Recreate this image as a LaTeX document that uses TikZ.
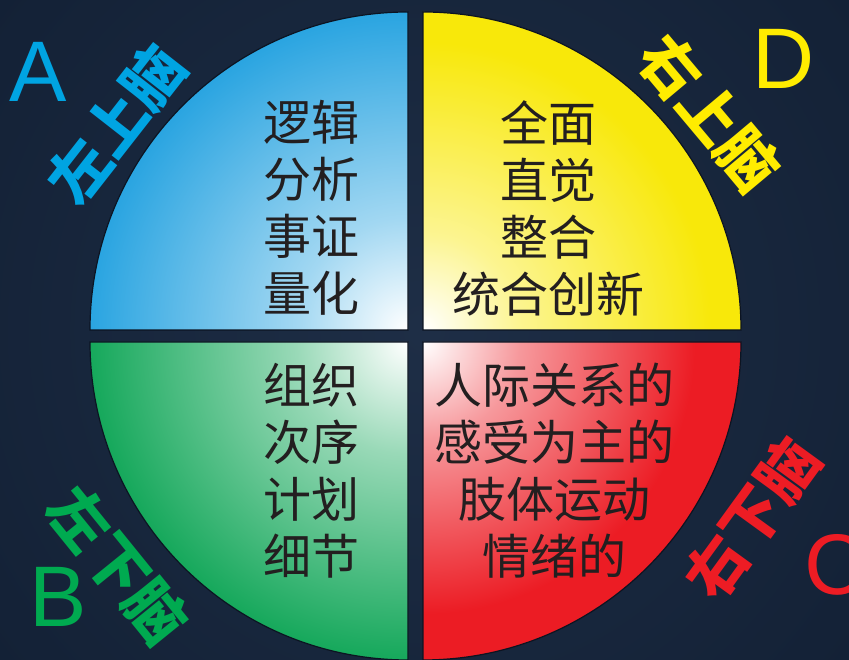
\documentclass[tikz,border=0pt]{standalone}
\usepackage{fontspec}
\setmainfont{Liberation Sans}
\newfontfamily\cjk{Noto Sans CJK SC}
\definecolor{bginner}{RGB}{30,46,70}
\definecolor{bgouter}{RGB}{10,22,40}
\definecolor{rimdark}{RGB}{12,20,34}
\definecolor{bodyink}{RGB}{35,31,32}
\definecolor{qblue}{RGB}{22,156,222}
\definecolor{qyellow}{RGB}{248,232,10}
\definecolor{qgreen}{RGB}{0,160,76}
\definecolor{qred}{RGB}{236,28,36}
\definecolor{lblue}{RGB}{0,164,226}
\definecolor{lyellow}{RGB}{255,236,0}
\definecolor{lgreen}{RGB}{0,170,80}
\definecolor{lred}{RGB}{237,28,36}
\pgfdeclareradialshading{bluefade}{\pgfpoint{0bp}{0bp}}{color(0bp)=(white); color(7bp)=(qblue!40!white); color(22bp)=(qblue); color(50bp)=(qblue)}
\pgfdeclareradialshading{yellowfade}{\pgfpoint{0bp}{0bp}}{color(0bp)=(white); color(6bp)=(qyellow!45!white); color(18bp)=(qyellow); color(50bp)=(qyellow)}
\pgfdeclareradialshading{greenfade}{\pgfpoint{0bp}{0bp}}{color(0bp)=(white); color(7bp)=(qgreen!40!white); color(22bp)=(qgreen); color(50bp)=(qgreen)}
\pgfdeclareradialshading{redfade}{\pgfpoint{0bp}{0bp}}{color(0bp)=(white); color(6bp)=(qred!45!white); color(17bp)=(qred); color(50bp)=(qred)}

\begin{document}
\begin{tikzpicture}[x=1pt, y=1pt,
    body/.style={align=center, inner sep=0pt, text=bodyink,
        font=\cjk\fontsize{48}{57}\selectfont},
    side/.style={inner sep=0pt, font=\cjk\bfseries\fontsize{60}{60}\selectfont},
    letter/.style={inner sep=0pt, font=\fontsize{86}{86}\selectfont}]
    % Background
    \useasboundingbox (0,0) rectangle (849,660);
    \begin{scope}
        \clip (0,0) rectangle (849,660);
        \shade[inner color=bginner, outer color=bgouter] (424,330) circle (1000);
    \end{scope}

    % Quadrant corners
    \coordinate (ctl) at (408, 330);
    \coordinate (ctr) at (423, 330);
    \coordinate (cbl) at (408, 318);
    \coordinate (cbr) at (423, 318);

    % Draw quadrants
    \foreach \c/\a/\fade in {ctl/90/bluefade, ctr/0/yellowfade,
                             cbl/180/greenfade, cbr/270/redfade} {
        \begin{scope}
            \clip (\c) -- ++(\a:318) arc (\a:\a+90:318) -- cycle;
            \shade[shading=\fade] (\c) circle (400);
        \end{scope}
        \draw[rimdark, line width=1.2pt] (\c) -- ++(\a:318) arc (\a:\a+90:318) -- cycle;
    }

    % Quadrant texts
    \node[body] (tl) at (311, 452) {逻辑\\分析\\事证\\量化};
    \node[body] (tr) at (548, 452) {全面\\直觉\\整合\\统合创新};
    \node[body] (bl) at (311, 189) {组织\\次序\\计划\\细节};
    \node[body] (br) at (554, 189) {人际关系的\\感受为主的\\肢体运动\\情绪的};

    % Side labels
    \node[letter, lblue] (la) at (38, 588) {A};
    \node[side, lblue, rotate=52] (lta) at (116, 536) {左上脑};
    \node[letter, lyellow] (ld) at (784, 601) {D};
    \node[side, lyellow, rotate=-50] (ltd) at (710, 547) {右上脑};
    \node[letter, lgreen] (lb) at (58, 63) {B};
    \node[side, lgreen, rotate=-51] (ltb) at (118, 95) {左下脑};
    \node[letter, lred] (lc) at (836, 95) {C};
    \node[side, lred, rotate=54] (ltc) at (752, 142) {右下脑};
\end{tikzpicture}
\end{document}
